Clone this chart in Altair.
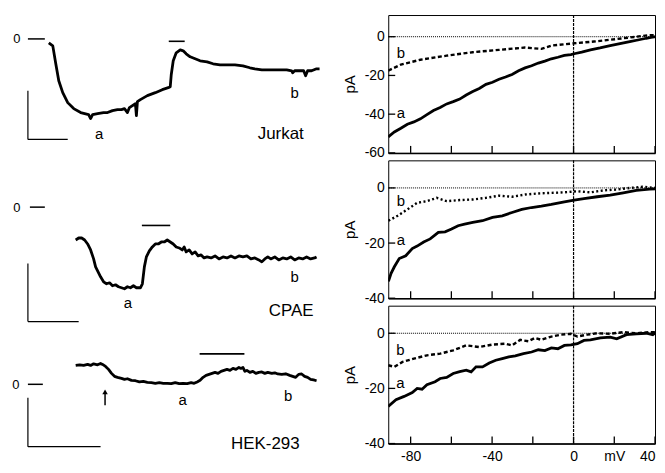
import altair as alt
import pandas as pd

FONT = "Liberation Sans"

# ---------------- left column: current traces (time in s, current in pA) ----------------
jur_t = [42, 50, 56, 62, 70, 80, 92, 106, 122, 126, 130, 140, 152, 160, 170, 180, 188, 194, 200, 204,
         210, 216, 218, 220, 226, 240, 256, 270, 282, 286, 288, 292, 298, 306, 312, 318, 326, 336, 346, 360,
         372, 386, 400, 416, 432, 446, 456, 470, 486, 502, 520, 530, 532, 536, 546, 554, 558, 562, 570, 580, 586]
jur_i = [-2, -3.5, -12.5, -21, -27, -32, -35, -37, -38, -40, -38, -37.5, -37, -37, -36, -35.5, -35.5, -35, -37, -34.5,
         -33.5, -32.5, -38.5, -31.5, -30.5, -28.5, -27, -25.5, -24.5, -24, -18, -11, -7, -5.5, -6, -7.5, -9, -10, -11, -11.5,
         -12.5, -13, -13, -13, -13.5, -14.5, -15, -15.5, -15.5, -15.5, -15.5, -16, -17, -16, -16, -16, -18.5, -16, -16, -15, -15]

cpae_t = [96, 102, 108, 114, 120, 126, 132, 136, 142, 146, 152, 158, 164, 170, 176, 182, 188, 194, 200, 206,
          212, 218, 226, 230, 234, 238, 244, 250, 256, 262, 268, 274, 280, 286, 292, 298, 304, 310, 314, 318,
          324, 330, 336, 342, 348, 354, 360, 368, 376, 384, 392, 400, 408, 416, 424, 432, 440, 448, 456, 464,
          470, 476, 482, 488, 496, 504, 512, 520, 528, 536, 544, 552, 560, 568, 576, 580]
cpae_i = [-16.5, -15.5, -15.5, -16.5, -18.5, -21.5, -26, -30, -33, -35, -37.5, -38.5, -38, -39.5, -39, -40, -40.5, -41, -40, -40.5,
          -39.5, -40.5, -40.5, -38.5, -30, -25, -22, -20, -18.5, -18.5, -17.5, -17.5, -16.5, -17.5, -18.5, -20, -20.5, -21.5, -20, -22.5,
          -21.5, -23.5, -22.5, -24.5, -24, -25.5, -25, -25.5, -24.5, -26, -25, -25.5, -24.5, -25.5, -24.5, -25, -24.5, -26, -25.5, -26.5,
          -27.5, -26, -25, -26, -25, -26.5, -25.5, -26, -25, -26.5, -25.5, -26, -25, -26, -25.5, -25]

hek_t = [96, 104, 112, 120, 126, 132, 140, 146, 150, 156, 162, 168, 174, 180, 188, 194, 200, 208, 216, 224,
         232, 240, 248, 256, 264, 272, 280, 288, 296, 304, 312, 320, 328, 334, 340, 346, 352, 358, 364, 370,
         376, 382, 388, 394, 400, 406, 412, 418, 424, 428, 432, 436, 440, 446, 452, 458, 464, 470, 476, 482,
         490, 496, 502, 510, 518, 526, 532, 538, 544, 550, 556, 562, 568, 574, 580]
hek_i = [9.5, 9.8, 9.5, 10, 9.5, 10.3, 9.8, 10.5, 10, 9, 7.5, 5.5, 4, 3.5, 3, 2.5, 2.8, 2, 1.8, 1.2,
         1.5, 1, 0.8, 0.5, 0.8, 0.5, 0.5, 0.3, 0.8, 0.3, 0.5, 0.3, 0.8, 0.5, 1.2, 2, 3.5, 4.5, 5, 5.5,
         6, 5.5, 6.5, 7, 7.5, 7, 8, 7.5, 8.5, 8, 8.5, 6.5, 7, 6, 6.5, 5.5, 6, 6.2, 5.5, 6,
         5.5, 5.8, 5.2, 5, 5.3, 4.5, 4, 3.5, 5, 5.2, 4, 3.5, 2.5, 2.2, 1.8]

# zero-level dash, application bar, scale bars: [t, t2, i, i2, stroke width]
jur_segs = [[0, 34, 0, 0, 1.5], [283, 315, -1.2, -1.2, 1.6], [0, 0, -26, -50.5, 1.2], [0, 80, -50.5, -50.5, 1.2]]
cpae_segs = [[4, 34, 0, 0, 1.5], [229, 286, -9.2, -9.2, 1.6], [0, 0, -28.3, -57.5, 1.2], [0, 102, -57.5, -57.5, 1.2]]
hek_segs = [[0, 30, 0, 0, 1.5], [345, 435, 15.3, 15.3, 1.6], [0, 0, -6.8, -31.3, 1.2], [0, 146, -31.3, -31.3, 1.2]]

# labels: [t, i, text, font size]
jur_text = [[-22, -2.3, "0", 13], [143, -50.3, "a", 15], [536, -29.5, "b", 15], [508, -50.3, "Jurkat", 17]]
cpae_text = [[-22, -2.3, "0", 13], [201, -50.8, "a", 15], [536, -37.8, "b", 15], [529, -54.5, "CPAE", 17]]
hek_text = [[-24, -2.3, "0", 13], [311, -10.2, "a", 15], [523, -8.2, "b", 15], [477, -32.7, "HEK-293", 17]]

hek_arrow_t = [155]
hek_arrow_tip = [-3.8]
hek_arrow_tail = [-10.5]

# ---------------- right column: I-V relations (mV, pA) ----------------
jur_a_v = [-91, -88, -84.8, -81.6, -78.4, -75.2, -72, -68.8, -65.5, -62.3, -59.1, -55.9, -52.7, -49.5, -46.3, -43, -39.8,
           -36.6, -33.4, -30.2, -27, -23.8, -20.6, -17.3, -14.1, -10.9, -7.7, -4.5, -1.3, 0.3, 4, 8.3, 13, 18, 22.8, 27.6, 31.6, 35.7, 38, 40.5]
jur_a_i = [-51.7, -49.2, -47.3, -45.2, -44, -42.4, -40.2, -38.1, -36.6, -34.7, -33.5, -32.2, -30.1, -28.3, -26.7, -24.6, -23.5,
           -22, -20.8, -19.5, -17.6, -16.1, -15, -13.6, -12.6, -11.4, -10.6, -9.7, -9.2, -8.8, -8, -6.8, -5.8, -4.6, -3.6, -2.5, -1.7, -0.8, -0.4, 0]
jur_b_v = [-91, -84.8, -75.2, -62.3, -49.5, -36.6, -23.8, -15.8, -10.9, 0.3, 10, 21.2, 30.8, 37.3, 40.5]
jur_b_i = [-17.5, -14.4, -11.9, -9.8, -8, -6.8, -5.6, -6.3, -4.6, -3.4, -2.5, -1.2, 0, 0.8, 0.8]

cpae_a_v = [-90.9, -89.6, -88, -85.6, -82.4, -79.2, -76.8, -73.6, -70.4, -66.4, -63.1, -59.9, -56.7, -53.5, -49.5, -44.7, -39.8,
            -35, -30.2, -25.4, -20.6, -15.8, -10.9, -4.5, 0.3, 5.1, 11.6, 18, 24.4, 30.8, 37.3, 40.5]
cpae_a_i = [-33.9, -31, -28.6, -25.6, -24.6, -22, -21.1, -19.6, -18.5, -16.1, -15.9, -14.9, -13.7, -13.1, -12.5, -11.9, -10.7,
            -10.1, -8.9, -7.8, -7.1, -6.6, -6, -5.1, -4.4, -3.9, -3.2, -2.6, -1.8, -0.9, -0.4, -0.3]
cpae_b_v = [-90.9, -86.4, -81.6, -76.8, -72, -67.2, -62.3, -55.9, -49.5, -43, -36.6, -30.2, -23.8, -17.3, -10.9, -4.5,
            1.9, 8.3, 14.7, 21.2, 27.6, 34, 40.5]
cpae_b_i = [-11.9, -10.1, -7.8, -5.4, -4.8, -3.6, -4.8, -4.4, -4.2, -3.6, -2.8, -3.2, -2.4, -2, -1.8, -1.6,
            -1.2, -1.6, -0.9, -0.6, 0, 0.4, 0]

hek_a_v = [-91, -87.2, -83.2, -79.2, -76.8, -74.4, -72, -68, -65.5, -62.3, -59.1, -55.9, -52.7, -50.3, -47.9, -44.7, -41.4,
           -38.2, -35, -31.8, -28.6, -24.6, -20.6, -17.3, -14.1, -10.9, -7.7, -4.5, -1.3, 1.9, 5.1, 8.3, 13.2, 18, 21.2,
           26, 30.8, 35.7, 38.9, 40.5]
hek_a_i = [-26.5, -24.1, -22.9, -21.5, -20, -20.3, -18.7, -17.6, -16.4, -16, -14.6, -13.9, -13.4, -14, -12.2, -12.2, -10.8,
           -9.8, -9.2, -8.6, -8.2, -7.4, -6.8, -6, -6.3, -5.3, -5.6, -4.4, -4.2, -3.8, -2.6, -2.4, -1.7, -1.4, -2,
           -0.5, -0.2, 0, -0.5, 0.4]
hek_b_v = [-91, -88, -84, -78.4, -72, -65.5, -59.1, -52.7, -46.3, -39.9, -33.4, -30.2, -26.2, -22.2, -18.9, -15.8,
           -10.9, -6.1, -1.3, 1.9, 6.7, 11.6, 18, 24.4, 30.8, 37.3, 40.5]
hek_b_i = [-11.6, -12.2, -10.4, -9.2, -8, -7.4, -6.2, -4.4, -5, -4.1, -3.8, -4.4, -2.4, -2.9, -1.7, -2.4,
           -1.2, -0.5, -0.2, -1.2, -0.5, 0, -0.2, 0.4, 0, 0.4, 0.4]

iv_ticks = [-80, -60, -40, -20, 0, 20, 40]
iv_x_domain = [-91, 40]

# curve labels [mV, pA, text]
jur_iv_lab = [[-84.8, -8.5, "b"], [-84.8, -39.5, "a"]]
cpae_iv_lab = [[-84.8, -4.8, "b"], [-84.8, -19, "a"]]
hek_iv_lab = [[-85, -6, "b"], [-85, -18.2, "a"]]

IV_H = 138.5
IV_W = 268


def trace_panel(t, i, t_dom, i_dom, h, segs, texts, arrow=None):
    X = alt.X("t:Q", scale=alt.Scale(domain=t_dom, nice=False, zero=False), axis=None)
    Y = alt.Y("i:Q", scale=alt.Scale(domain=i_dom, nice=False, zero=False), axis=None)
    line = alt.Chart(pd.DataFrame({"t": t, "i": i})).mark_line(
        color="black", strokeWidth=2.8, strokeJoin="round").encode(x=X, y=Y)
    seg = alt.Chart(pd.DataFrame(segs, columns=["t", "t2", "i", "i2", "w"])).mark_rule(
        color="black").encode(x=X, x2="t2:Q", y=Y, y2="i2:Q",
                              strokeWidth=alt.StrokeWidth("w:Q", scale=None))
    txt = alt.Chart(pd.DataFrame(texts, columns=["t", "i", "label", "fs"])).mark_text(
        font=FONT, align="center", baseline="alphabetic", color="black").encode(
        x=X, y=Y, text="label:N", size=alt.Size("fs:Q", scale=None))
    layers = [line, seg, txt]
    if arrow is not None:
        at, tip, tail = arrow
        adf = pd.DataFrame({"t": at, "i": tip, "i2": tail})
        layers.append(alt.Chart(adf).mark_rule(color="black", strokeWidth=1.5).encode(x=X, y=Y, y2="i2:Q"))
        layers.append(alt.Chart(adf).mark_point(shape="triangle-up", filled=True, color="black",
                                                size=30, opacity=1).encode(x=X, y=Y))
    return alt.layer(*layers).properties(width=322, height=h,
                                         view=alt.ViewBackground(stroke="transparent"))


def iv_panel(a_v, a_i, b_v, b_i, i_dom, h, yvals, bdash, bottom, labs):
    xaxis = alt.Axis(values=[-80, -40, 0, 20, 40],
                     labelExpr="datum.value == 20 ? 'mV' : '' + datum.value",
                     labels=bottom, labelFlush=True, ticks=False, tickSize=0, grid=False, domain=True,
                     domainColor="black", domainWidth=1.5, labelPadding=6,
                     labelFont=FONT, labelFontSize=14, labelColor="black", title=None)
    yaxis = alt.Axis(values=yvals, labelExpr="'' + datum.value", ticks=False, tickSize=0,
                     grid=False, domain=False, labelPadding=4, labelFont=FONT, labelFontSize=14,
                     labelColor="black", title="pA", titleFont=FONT, titleFontSize=15,
                     titleFontWeight="normal", titleColor="black", titlePadding=7)
    X = alt.X("v:Q", scale=alt.Scale(domain=iv_x_domain, nice=False, zero=False), axis=xaxis)
    Y = alt.Y("i:Q", scale=alt.Scale(domain=i_dom, nice=False, zero=False), axis=yaxis)
    la = alt.Chart(pd.DataFrame({"v": a_v, "i": a_i})).mark_line(
        color="black", strokeWidth=2.8, clip=True).encode(x=X, y=Y)
    lb = alt.Chart(pd.DataFrame({"v": b_v, "i": b_i})).mark_line(
        color="black", strokeWidth=2.4, strokeDash=bdash, clip=True).encode(x=X, y=Y)
    zh = alt.Chart(pd.DataFrame({"i": [0]})).mark_rule(
        color="black", strokeWidth=1, strokeDash=[1, 1]).encode(y=Y)
    zv = alt.Chart(pd.DataFrame({"v": [0]})).mark_rule(
        color="black", strokeWidth=1.2, strokeDash=[3, 1]).encode(x=X)
    xt = alt.Chart(pd.DataFrame({"v": iv_ticks})).mark_rule(
        color="black", strokeWidth=1.3).encode(x=X, y=alt.value(h), y2=alt.value(h - 7))
    yt = alt.Chart(pd.DataFrame({"i": yvals})).mark_rule(
        color="black", strokeWidth=1.3).encode(y=Y, x=alt.value(0), x2=alt.value(7))
    tx = alt.Chart(pd.DataFrame(labs, columns=["v", "i", "label"])).mark_text(
        font=FONT, fontSize=15, align="center", baseline="middle", color="black").encode(
        x=X, y=Y, text="label:N")
    return alt.layer(la, lb, zh, zv, xt, yt, tx).properties(
        width=IV_W, height=h, view=alt.ViewBackground(stroke="black", strokeWidth=1))


L1 = trace_panel(jur_t, jur_i, [-38, 606], [-62, 12], 148, jur_segs, jur_text)
L2 = trace_panel(cpae_t, cpae_i, [-38, 606], [-62.5, 22.5], 170, cpae_segs, cpae_text)
L3 = trace_panel(hek_t, hek_i, [-38, 606], [-36, 26.5], 125, hek_segs, hek_text,
                 arrow=(hek_arrow_t, hek_arrow_tip, hek_arrow_tail))

R1 = iv_panel(jur_a_v, jur_a_i, jur_b_v, jur_b_i, [-60, 11.2], IV_H, [0, -20, -40, -60],
              [4, 2.5], False, jur_iv_lab)
R2 = iv_panel(cpae_a_v, cpae_a_i, cpae_b_v, cpae_b_i, [-40, 10], IV_H, [0, -20, -40],
              [2, 2.5], False, cpae_iv_lab)
R3 = iv_panel(hek_a_v, hek_a_i, hek_b_v, hek_b_i, [-40, 10], IV_H, [0, -20, -40],
              [4, 2.5], True, hek_iv_lab)

left = alt.vconcat(L1, L2, L3, spacing=0, bounds="flush")
right = alt.vconcat(R1, R2, R3, spacing=7, bounds="flush")

chart = alt.hconcat(left, right, spacing=11).properties(
    padding={"left": 0, "top": 4, "right": 0, "bottom": 0}
).configure(font=FONT, background="white")

chart.save("out.html", embed_options={"renderer": "svg", "actions": False})
